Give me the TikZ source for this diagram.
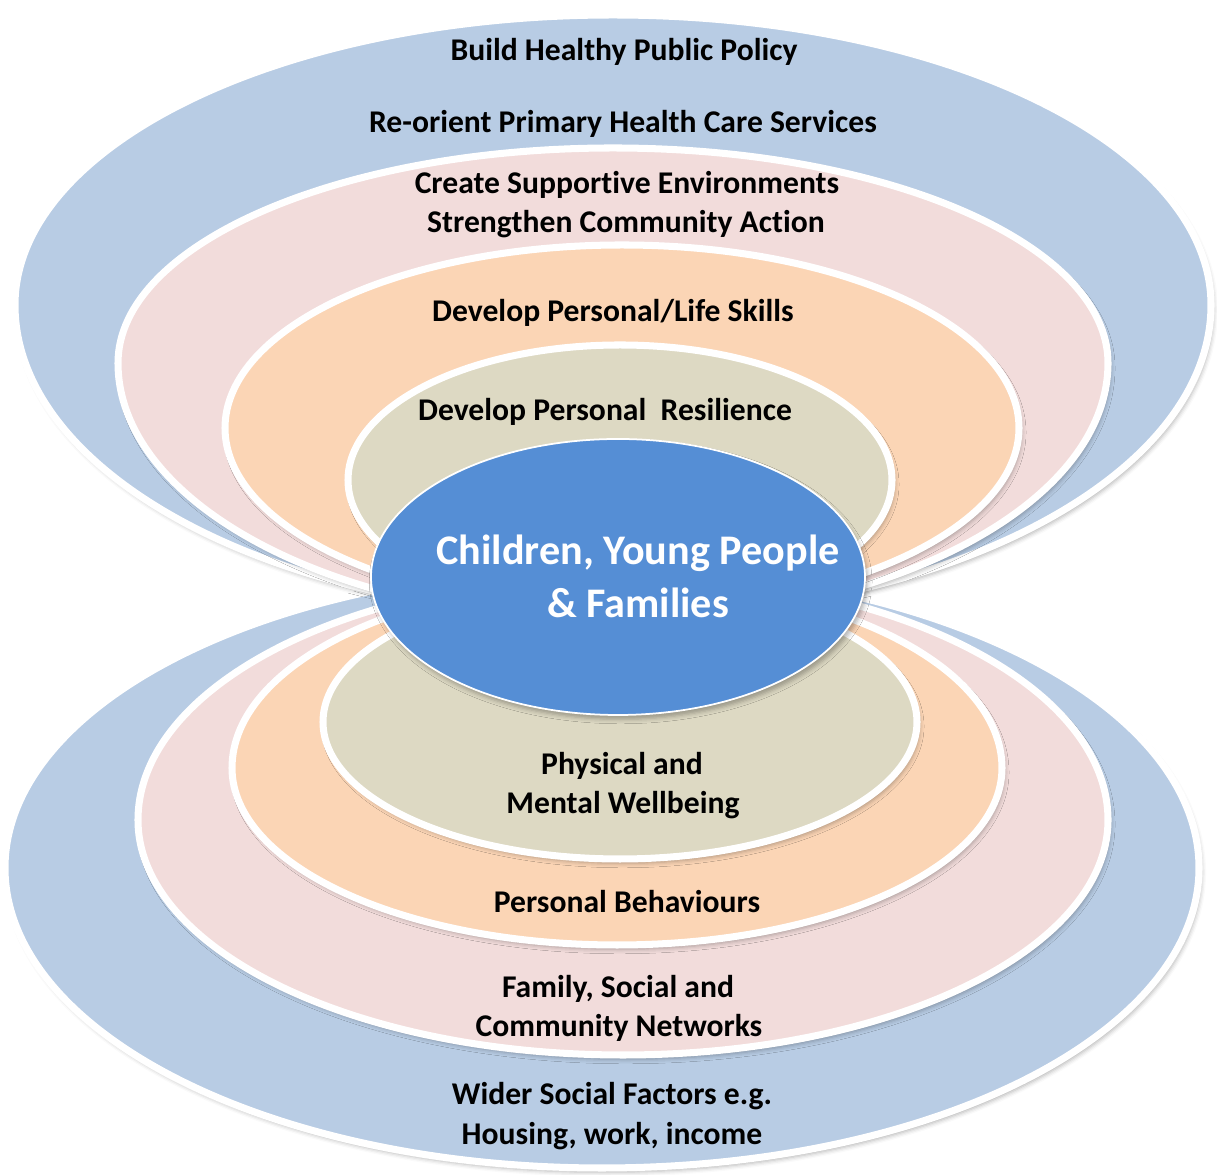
\documentclass[tikz,border=0pt]{standalone}
\usepackage{fontspec}
\setmainfont{Carlito}[Ligatures=NoCommon]
\usetikzlibrary{shadows.blur}
\definecolor{ringblue}{RGB}{184,204,228}
\definecolor{ringpink}{RGB}{242,220,219}
\definecolor{ringorange}{RGB}{251,213,181}
\definecolor{ringbeige}{RGB}{221,217,195}
\definecolor{coreblue}{RGB}{85,142,213}

\begin{document}
\begin{tikzpicture}[
         x = 0.02cm, y = 0.02cm,
band/.style = {draw=white, line width=4pt, fill=#1,
               blur shadow={shadow xshift=1.5pt, shadow yshift=-2.5pt,
                            shadow blur radius=2.5pt, shadow opacity=30}},
 lbl/.style = {anchor=base, font=\fontsize{18}{22}\selectfont\bfseries},
core/.style = {anchor=base, text=white, font=\fontsize{24}{29}\selectfont\bfseries}
                        ]
\useasboundingbox (0,0) rectangle (1217,1175);
% lower rings, outside in
    \path[band=ringblue] (602,307) ellipse [x radius=597, y radius=300];
    \path[band=ringpink] (138,355) arc[start angle=180, end angle=0, x radius=485, y radius=245]
                                   arc[start angle=0, end angle=-180, x radius=485, y radius=235] -- cycle;
    \path[band=ringorange] (232,407) arc[start angle=180, end angle=0, x radius=385, y radius=188]
                                     arc[start angle=0, end angle=-180, x radius=385, y radius=177] -- cycle;
    \path[band=ringbeige] (620,453) ellipse [x radius=297, y radius=137];
% upper rings, outside in
    \path[band=ringblue] (15,870) arc[start angle=180, end angle=0, x radius=598, y radius=290]
                                  arc[start angle=0, end angle=-180, x radius=598, y radius=312] -- cycle;
    \path[band=ringpink] (118,812) arc[start angle=180, end angle=0, x radius=495, y radius=215]
                                   arc[start angle=0, end angle=-180, x radius=495, y radius=258] -- cycle;
    \path[band=ringorange] (622,747) ellipse [x radius=397, y radius=183];
    \path[band=ringbeige] (620,695) ellipse [x radius=272, y radius=135];
% centre
    \path[band=coreblue, line width=1pt] (618,598) ellipse [x radius=247, y radius=138];
% labels
    \node[lbl] (build)      at (624,1114) {Build Healthy Public Policy};
    \node[lbl] (reorient)   at (623,1042) {Re-orient Primary Health Care Services};
    \node[lbl] (create)     at (627,981)  {Create Supportive Environments};
    \node[lbl] (strengthen) at (626,942)  {Strengthen Community Action};
    \node[lbl] (skills)     at (613,853)  {Develop Personal/Life Skills};
    \node[lbl] (resilience) at (605,754)  {Develop Personal\ \ Resilience};
    \node[core] (children)  at (638,610)  {Children, Young People};
    \node[core] (families)  at (638,557)  {\& Families};
    \node[lbl] (physical)   at (622,400)  {Physical and};
    \node[lbl] (mental)     at (623,361)  {Mental Wellbeing};
    \node[lbl] (behaviours) at (627,262)  {Personal Behaviours};
    \node[lbl] (family)     at (618,177)  {Family, Social and};
    \node[lbl] (community)  at (619,138)  {Community Networks};
    \node[lbl] (wider)      at (612,70)   {Wider Social Factors e.g.};
    \node[lbl] (housing)    at (612,30)   {Housing, work, income};
\end{tikzpicture}
\end{document}
